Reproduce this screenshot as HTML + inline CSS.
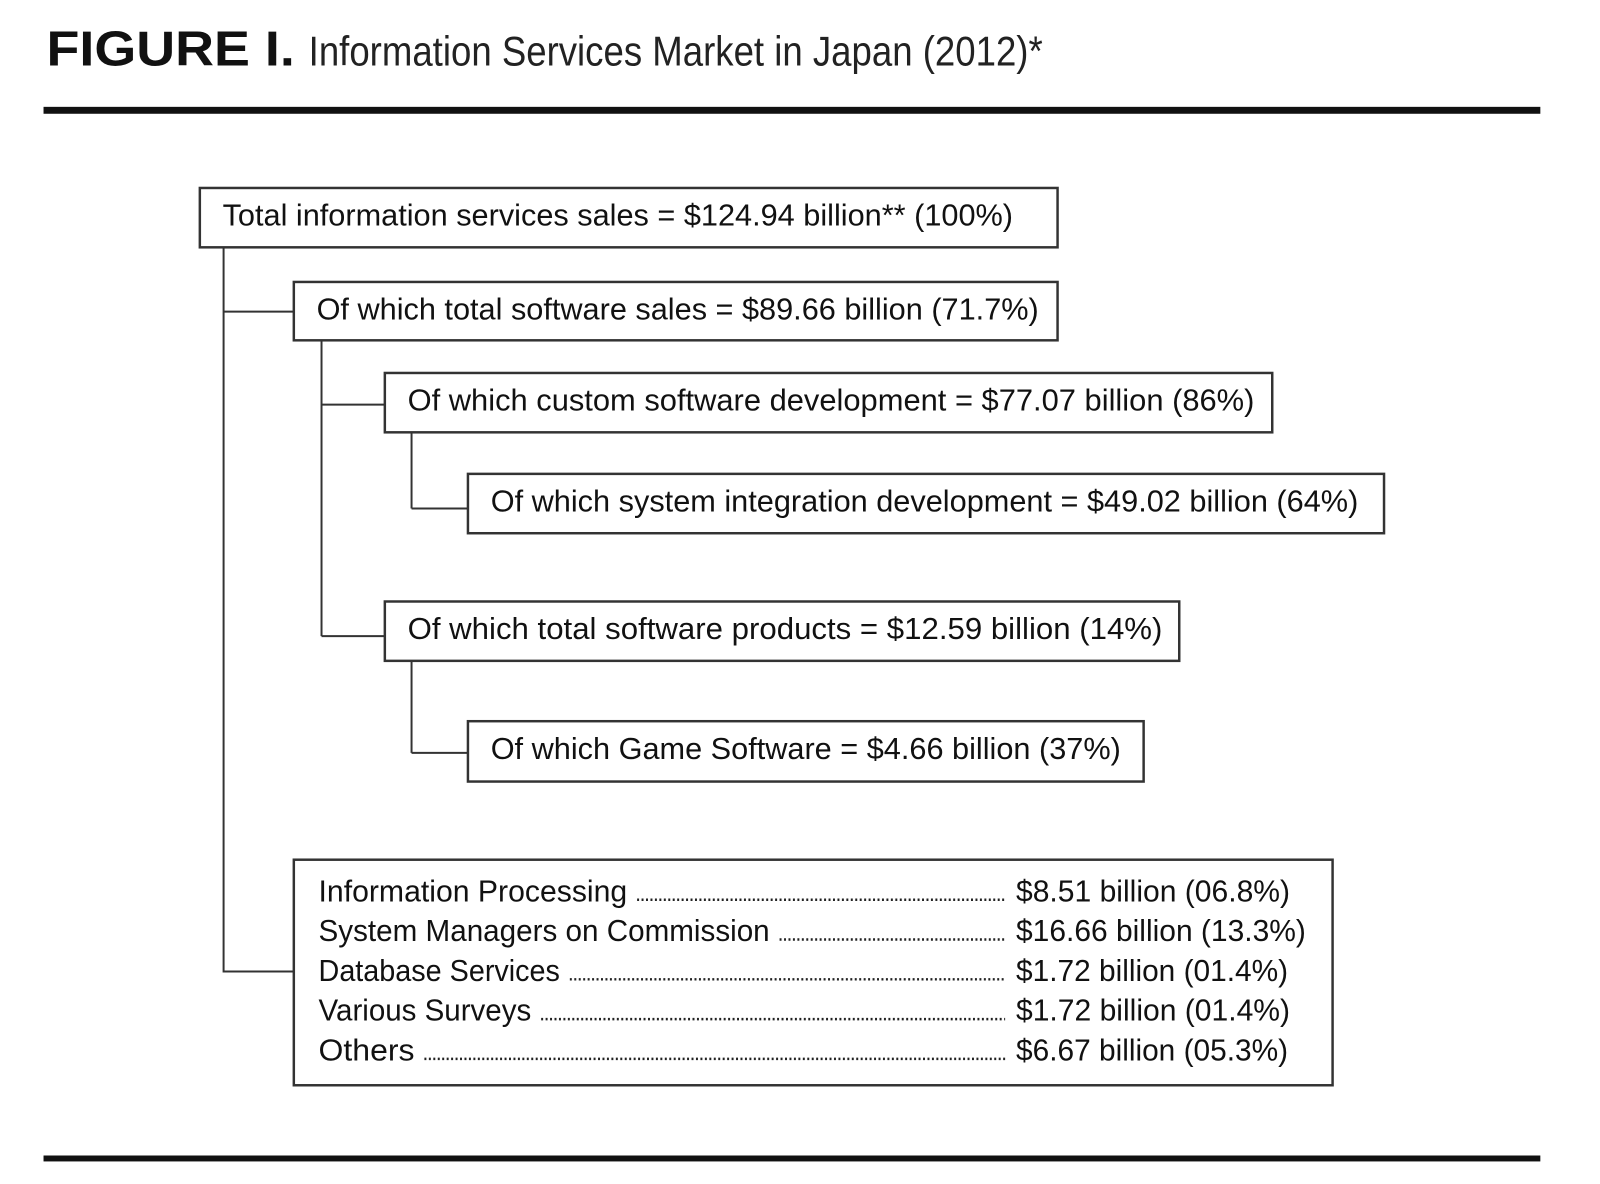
<!DOCTYPE html>
<html><head><meta charset="utf-8"><style>
html,body{margin:0;padding:0;background:#fff;}
svg{display:block;font-family:"Liberation Sans",sans-serif;}
</style></head><body>
<svg id="fig" width="1600" height="1184" viewBox="0 0 1600 1184">
<g transform="scale(0.9893)">
<text x="47" y="66" font-size="50" font-weight="bold" fill="#111" textLength="251" lengthAdjust="spacingAndGlyphs">FIGURE I.</text>
<text x="312" y="66" font-size="42" fill="#222" textLength="742" lengthAdjust="spacingAndGlyphs">Information Services Market in Japan (2012)*</text>
<rect x="44" y="108" width="1513" height="7" fill="#111"/>
<rect x="44" y="1168" width="1513" height="6" fill="#111"/>
<g id="conn"></g>
<g id="boxes"></g>
<g id="others"></g>
</g>
</svg>
<script>
const boxLabels = [
 "Total information services sales = $124.94 billion** (100%)",
 "Of which total software sales = $89.66 billion (71.7%)",
 "Of which custom software development = $77.07 billion (86%)",
 "Of which system integration development = $49.02 billion (64%)",
 "Of which total software products = $12.59 billion (14%)",
 "Of which Game Software = $4.66 billion (37%)"
];
const otherNames = ["Information Processing","System Managers on Commission","Database Services","Various Surveys","Others"];
const otherValues = ["$8.51 billion (06.8%)","$16.66 billion (13.3%)","$1.72 billion (01.4%)","$1.72 billion (01.4%)","$6.67 billion (05.3%)"];

const NS="http://www.w3.org/2000/svg";
function mk(tag,attrs,parent){const e=document.createElementNS(NS,tag);for(const k in attrs)e.setAttribute(k,attrs[k]);parent.appendChild(e);return e;}
const B=[[202,190,1069,250,225,1024],[297,285,1069,344,320,1050],[389,377,1286,437,412,1268],[473,479,1399,539,496,1373],[389,608,1192,668,412,1175],[473,729,1156,790,496,1133]];
const gb=document.getElementById('boxes');
boxLabels.forEach((t,i)=>{const b=B[i];
 const r=mk('rect',{x:b[0],y:b[1],width:b[2]-b[0],height:b[3]-b[1],fill:'#fff',stroke:'#333','stroke-width':2.5},gb);
 
 
 const tx=mk('text',{x:b[4],y:b[1]+38,'font-size':31,fill:'#111',textLength:b[5]-b[4],lengthAdjust:'spacingAndGlyphs'},gb);
 tx.textContent=t;
 
 
});
const gc=document.getElementById('conn');
const L=[[226,250,226,983],[226,315,297,315],[226,982,297,982],[325,344,325,643],[325,409,389,409],[325,643,389,643],[416,437,416,514],[416,514,473,514],[416,668,416,761],[416,761,473,761]];
L.forEach((l,i)=>{const e=mk('line',{x1:l[0],y1:l[1],x2:l[2],y2:l[3],stroke:'#333','stroke-width':2},gc);
 
 });
const go=document.getElementById('others');
const ob=mk('rect',{x:297,y:869,width:1050,height:228,fill:'#fff',stroke:'#333','stroke-width':2.5},go);


const nameEnd=[634,778,566,537,419], valEnd=[1304,1320,1302,1304,1302];
otherNames.forEach((n,i)=>{const y=911+i*40.2;
 const t=mk('text',{x:322,y:y,'font-size':31,fill:'#111',textLength:nameEnd[i]-322,lengthAdjust:'spacingAndGlyphs'},go);
 t.textContent=n;
 
 
 const d=mk('line',{x1:nameEnd[i]+10,y1:y-1.5,x2:1016,y2:y-1.5,stroke:'#222','stroke-width':2.5,'stroke-dasharray':'2 2.5'},go);
 
 
 const v=mk('text',{x:1027,y:y,'font-size':31,fill:'#111',textLength:valEnd[i]-1027,lengthAdjust:'spacingAndGlyphs'},go);
 v.textContent=otherValues[i];
 
 
});
</script>
</body></html>
